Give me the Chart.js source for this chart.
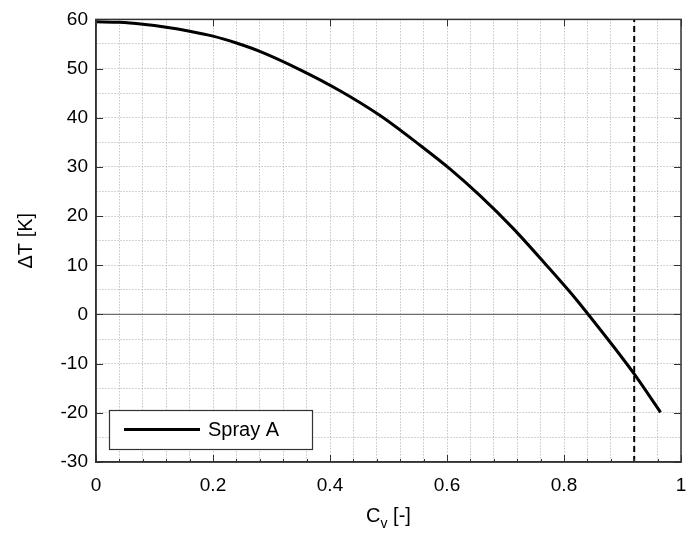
<!DOCTYPE html>
<html><head><meta charset="utf-8">
<script src="https://cdn.jsdelivr.net/npm/chart.js@4/dist/chart.umd.min.js"></script>
<style>html,body{margin:0;padding:0;background:#fff}</style>
</head><body>
<canvas id="c" width="699" height="533"></canvas>
<script>
// ---- data ----
const cvValues = [0, 0.04, 0.08, 0.12, 0.16, 0.2, 0.24, 0.28, 0.35, 0.417, 0.485, 0.554, 0.605, 0.656, 0.713, 0.77, 0.822, 0.8415, 0.9, 0.92, 0.965];
const deltaT   = [59.5, 59.4, 59.0, 58.4, 57.6, 56.6, 55.2, 53.5, 49.7, 45.5, 40.5, 34.4, 29.6, 24.2, 17.5, 10.0, 2.9, 0, -8.9, -12.1, -19.9];
const xTickLabels = ['0', '0.2', '0.4', '0.6', '0.8', '1'];
const yTickLabels = ['-30', '-20', '-10', '0', '10', '20', '30', '40', '50', '60'];
const limitCv = 0.92;
const seriesName = 'Spray A';
const xTitleMain = 'C', xTitleSub = 'v', xTitleRest = ' [-]';
const yTitle = '\u0394T [K]';

const FONT = "'Liberation Sans', Arial, Helvetica, sans-serif";
const xMin = Number(xTickLabels[0]), xMax = Number(xTickLabels[xTickLabels.length - 1]);
const yMin = Number(yTickLabels[0]), yMax = Number(yTickLabels[yTickLabels.length - 1]);
const xMajor = 0.2, xMinor = 0.04, yMajor = 10, yMinor = 5;
const isMajor = (v, step) => Math.abs(v / step - Math.round(v / step)) < 1e-6;

const curve = cvValues.map((x, i) => ({x, y: deltaT[i]}));

const decor = {
  id: 'decor',
  afterDatasetsDraw(chart) {
    const {ctx, chartArea: a, scales: {x, y}} = chart;
    ctx.save();
    ctx.setLineDash([]);
    // frame
    ctx.strokeStyle = '#333'; ctx.lineWidth = 1.5;
    ctx.strokeRect(a.left, a.top, a.right - a.left, a.bottom - a.top);
    // inside ticks
    ctx.lineWidth = 1;
    ctx.beginPath();
    x.ticks.forEach(t => {
      const px = Math.round(x.getPixelForValue(t.value)) + 0.5;
      const L = isMajor(t.value, xMajor) ? 7 : 3;
      ctx.moveTo(px, a.bottom); ctx.lineTo(px, a.bottom - L);
      if (L === 7) { ctx.moveTo(px, a.top); ctx.lineTo(px, a.top + L); }
    });
    y.ticks.forEach(t => {
      if (!isMajor(t.value, yMajor)) return;
      const py = Math.round(y.getPixelForValue(t.value)) + 0.5;
      ctx.moveTo(a.left, py); ctx.lineTo(a.left + 7, py);
      ctx.moveTo(a.right, py); ctx.lineTo(a.right - 7, py);
    });
    ctx.stroke();

    // legend
    const lx = a.left + 13, ly = a.bottom - 52, lw = 203, lh = 39;
    ctx.fillStyle = '#fff';
    ctx.fillRect(lx, ly, lw, lh);
    ctx.strokeStyle = '#333'; ctx.lineWidth = 1.2;
    ctx.strokeRect(lx + 0.5, ly + 0.5, lw, lh);
    const ds = chart.data.datasets[0];
    ctx.strokeStyle = ds.borderColor; ctx.lineWidth = ds.borderWidth;
    ctx.beginPath(); ctx.moveTo(lx + 15, ly + lh / 2); ctx.lineTo(lx + 91, ly + lh / 2); ctx.stroke();
    ctx.fillStyle = '#000'; ctx.font = '20px ' + FONT;
    ctx.textAlign = 'left'; ctx.textBaseline = 'middle';
    ctx.fillText(ds.label, lx + 99, ly + lh / 2 + 1);

    // y title
    ctx.save();
    ctx.translate(26, (a.top + a.bottom) / 2);
    ctx.rotate(-Math.PI / 2);
    ctx.textAlign = 'center'; ctx.textBaseline = 'middle';
    ctx.font = '20px ' + FONT;
    ctx.fillText(yTitle, 0, 0);
    ctx.restore();

    // x title with subscript
    ctx.font = '20px ' + FONT;
    const w1 = ctx.measureText(xTitleMain).width;
    const w3 = ctx.measureText(xTitleRest).width;
    ctx.font = '14px ' + FONT;
    const w2 = ctx.measureText(xTitleSub).width;
    const total = w1 + w2 + w3;
    let cx = (a.left + a.right) / 2 - total / 2;
    const base = 522;
    ctx.textAlign = 'left'; ctx.textBaseline = 'alphabetic';
    ctx.font = '20px ' + FONT; ctx.fillText(xTitleMain, cx, base); cx += w1;
    ctx.font = '14px ' + FONT; ctx.fillText(xTitleSub, cx, base + 6); cx += w2;
    ctx.font = '20px ' + FONT; ctx.fillText(xTitleRest, cx, base);
    ctx.restore();
  }
};

new Chart(document.getElementById('c'), {
  type: 'line',
  data: {
    datasets: [
      {label: seriesName, data: curve, borderColor: '#000', borderWidth: 3, pointRadius: 0, cubicInterpolationMode: 'monotone', fill: false},
      {label: 'zero', data: [{x: xMin, y: 0}, {x: xMax, y: 0}], borderColor: '#6e6e6e', borderWidth: 1.3, pointRadius: 0, fill: false},
      {label: 'limit', data: [{x: limitCv, y: yMin}, {x: limitCv, y: yMax}], borderColor: '#000', borderWidth: 2, borderDash: [6, 4], pointRadius: 0, fill: false}
    ]
  },
  options: {
    responsive: false, animation: false, devicePixelRatio: 1,
    layout: {padding: {left: 0, right: 18, top: 17, bottom: 0}},
    plugins: {legend: {display: false}, tooltip: {enabled: false}},
    scales: {
      x: {
        type: 'linear', min: xMin, max: xMax,
        afterFit(s) { s.height = 71; },
        ticks: {
          stepSize: xMinor, autoSkip: false, maxRotation: 0, padding: 12,
          color: '#000', font: {size: 19, family: FONT},
          callback: v => isMajor(v, xMajor) ? xTickLabels[Math.round((v - xMin) / xMajor)] : ''
        },
        grid: {color: '#a8a8a8', lineWidth: 1, drawTicks: false},
        border: {display: true, color: '#333', width: 1.5, dash: [1, 2]}
      },
      y: {
        type: 'linear', min: yMin, max: yMax,
        afterFit(s) { s.width = 96; },
        ticks: {
          stepSize: yMinor, autoSkip: false, padding: 8,
          color: '#000', font: {size: 19, family: FONT},
          callback: v => isMajor(v, yMajor) ? yTickLabels[Math.round((v - yMin) / yMajor)] : ''
        },
        grid: {color: '#a8a8a8', lineWidth: 1, drawTicks: false},
        border: {display: true, color: '#333', width: 1.5, dash: [1, 2]}
      }
    }
  },
  plugins: [decor]
});
</script>
</body></html>
